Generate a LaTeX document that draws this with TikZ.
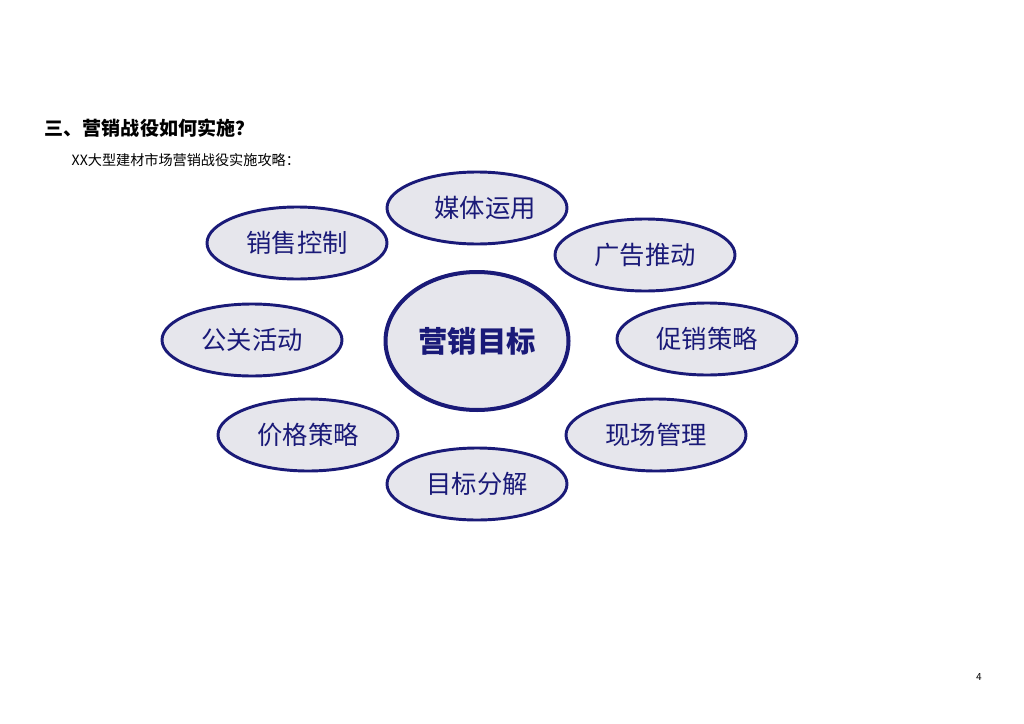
\documentclass[tikz,border=0pt]{standalone}
\usepackage{fontspec}
\usepackage{tikz}
\usetikzlibrary{shapes.geometric}
\newfontfamily\cjk{Noto Sans CJK SC}
\definecolor{navy}{HTML}{1A1A78}
\definecolor{marble}{HTML}{E6E6EC}
\tikzset{
  topic/.style={ellipse, draw=navy, line width=2.2pt, fill=marble,
    minimum width=180*0.75pt, minimum height=72*0.75pt, inner sep=0pt,
    text=navy, font=\cjk\fontsize{19}{19}\selectfont},
  goal/.style={topic, line width=3pt, minimum width=183*0.75pt,
    minimum height=138*0.75pt, font=\cjk\bfseries\fontsize{22}{22}\selectfont}
}

\begin{document}
\begin{tikzpicture}[x=0.75pt, y=-0.75pt]
  \useasboundingbox (0,0) rectangle (1024,724);
  \node[anchor=west, font=\cjk\bfseries\fontsize{14.3}{14.3}\selectfont] (title) at (40,128) {三、营销战役如何实施？};
  \node[anchor=west, font=\cjk\fontsize{10.6}{10.6}\selectfont] (subtitle) at (67,160) {XX大型建材市场营销战役实施攻略：};

  \node[goal]  (target) at (477,341) {营销目标};
  \node[topic] (media)  at (477,208) {\hspace*{12pt}媒体运用};
  \node[topic] (sales)  at (297,243) {销售控制};
  \node[topic] (ads)    at (645,255) {广告推动};
  \node[topic] (pr)     at (252,340) {公关活动};
  \node[topic] (promo)  at (707,339) {促销策略};
  \node[topic] (price)  at (308,435) {价格策略};
  \node[topic] (site)   at (656,435) {现场管理};
  \node[topic] (split)  at (477,484) {目标分解};

  \node[font=\sffamily\fontsize{8}{8}\selectfont] (page) at (979,677) {4};
\end{tikzpicture}
\end{document}
